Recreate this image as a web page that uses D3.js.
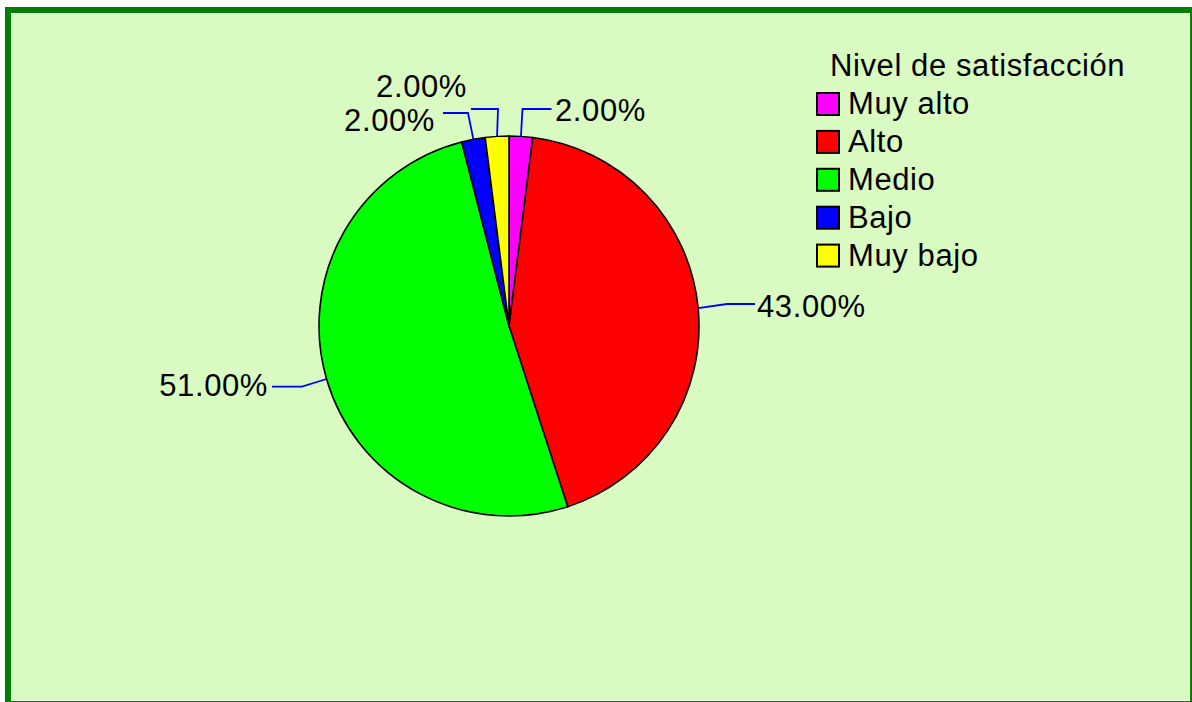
<!DOCTYPE html>
<html><head><meta charset="utf-8">
<script src="https://cdn.jsdelivr.net/npm/d3@7"></script>
<style>html,body{margin:0;padding:0;background:#fff;}svg{display:block;}</style>
</head><body>
<svg id="c" width="1192" height="702"></svg>
<script>
const categories = ["Muy alto", "Alto", "Medio", "Bajo", "Muy bajo"];
const values = [2, 43, 51, 2, 2];
const labels = ["2.00%", "43.00%", "51.00%", "2.00%", "2.00%"];
const colors = ["#ff00ff", "#ff0000", "#00ff00", "#0000ff", "#ffff00"];
const legendTitle = "Nivel de satisfacción";

// label layout: elbow and end of leader relative to pie centre, text anchor side
const labelLayout = [
  {elbow: [13.5, -217], end: [42.5, -217], text: [46, -205], anchor: "start"},
  {elbow: [218, -22], end: [246, -22], text: [248, -9], anchor: "start"},
  {elbow: [-207, 60.7], end: [-237, 60.7], text: [-241, 70], anchor: "end"},
  {elbow: [-41, -213], end: [-66, -213], text: [-74, -195], anchor: "end"},
  {elbow: [-11, -217], end: [-38, -217], text: [-42, -229], anchor: "end"}
];

const svg = d3.select("#c");
const font = "'Liberation Sans', Arial, sans-serif";
const LS = "0.6px";

svg.append("rect").attr("x", 5).attr("y", 7).attr("width", 1200).attr("height", 710).attr("fill", "#008000");
svg.append("rect").attr("x", 11).attr("y", 13).attr("width", 1179).attr("height", 688).attr("fill", "#ffffff");
svg.append("rect").attr("x", 12).attr("y", 14).attr("width", 1177).attr("height", 686).attr("fill", "#d9fac0");

const cx = 509, cy = 326, R = 190;
const pie = d3.pie().sort(null).value(d => d)(values);
const arc = d3.arc().innerRadius(0).outerRadius(R);
const g = svg.append("g").attr("transform", `translate(${cx},${cy})`);

g.selectAll("path.slice").data(pie).enter().append("path")
  .attr("class", "slice")
  .attr("d", arc)
  .attr("fill", (d, i) => colors[i])
  .attr("stroke", "#000").attr("stroke-width", 1.6).attr("stroke-linejoin", "round");

pie.forEach((d, i) => {
  const a = (d.startAngle + d.endAngle) / 2;
  const p0 = [R * Math.sin(a), -R * Math.cos(a)];
  const L = labelLayout[i];
  g.append("polyline")
    .attr("points", [p0, L.elbow, L.end].map(p => p.join(",")).join(" "))
    .attr("fill", "none").attr("stroke", "#0000ff").attr("stroke-width", 1.8);
  g.append("text")
    .attr("x", L.text[0]).attr("y", L.text[1])
    .attr("text-anchor", L.anchor)
    .attr("font-family", font).attr("font-size", 31).attr("letter-spacing", LS).attr("fill", "#000")
    .text(labels[i]);
});

// legend
const lg = svg.append("g");
lg.append("text").attr("x", 830).attr("y", 76)
  .attr("font-family", font).attr("font-size", 31).attr("letter-spacing", LS).attr("fill", "#000").text(legendTitle);
const ly = d3.scaleBand().domain(categories).range([92, 92 + 37.9 * categories.length]);
categories.forEach((c, i) => {
  const y = ly(c);
  lg.append("rect").attr("x", 817).attr("y", y + 1).attr("width", 22).attr("height", 22)
    .attr("fill", colors[i]).attr("stroke", "#000").attr("stroke-width", 2);
  lg.append("text").attr("x", 848).attr("y", y + 22)
    .attr("font-family", font).attr("font-size", 31).attr("letter-spacing", LS).attr("fill", "#000").text(c);
});
</script>
</body></html>
